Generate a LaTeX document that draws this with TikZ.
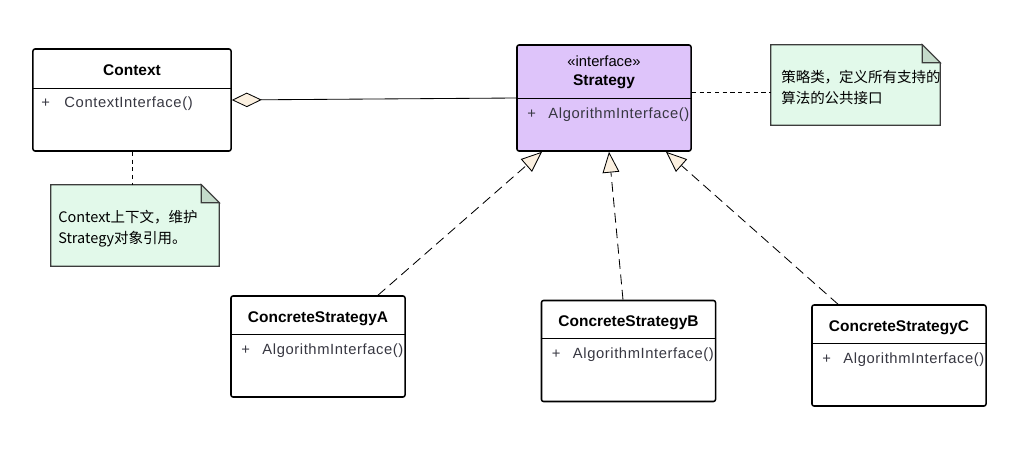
\documentclass[tikz,border=0pt]{standalone}
\usepackage{fontspec}
\setmainfont{Liberation Sans}
\newfontfamily\cjk{Noto Sans CJK SC}
\newfontfamily\methodfont[LetterSpace=4]{Liberation Sans}
\usepackage{xcolor}
\usepackage{tikz}
\usetikzlibrary{arrows.meta}
\usetikzlibrary{calc}
\definecolor{ifaceviolet}{RGB}{222,196,250}
\definecolor{notegreen}{RGB}{226,249,234}
\definecolor{foldgray}{RGB}{196,218,202}
\definecolor{notegray}{RGB}{60,60,60}
\definecolor{tipcream}{RGB}{251,240,224}
\definecolor{methodgray}{RGB}{55,55,65}

\begin{document}
\begin{tikzpicture}[x=0.025cm, y=-0.025cm,
        classbox/.style={draw, line width=1.1pt, rounded corners=1.5pt, minimum width=4.35cm, minimum height=2.525cm, inner sep=0pt},
        titletext/.style={anchor=base, inner sep=0pt, font=\fontsize{11}{13}\selectfont\bfseries},
        methodtext/.style={anchor=base west, inner sep=0pt, text=methodgray, font=\fontsize{10.5}{12}\methodfont},
        notebox/.style={draw=notegray, line width=0.8pt, fill=notegreen},
        notetext/.style={anchor=west, inner sep=0pt, align=left, font=\fontsize{10.3}{14.9}\cjk},
        realize/.style={line width=0.6pt, dash pattern=on 7pt off 4pt, -{Triangle[length=0.52cm, width=0.42cm, fill=tipcream]}},
        aggregate/.style={line width=0.6pt, -{Diamond[length=0.75cm, width=0.36cm, fill=tipcream]}},
        notelink/.style={line width=0.6pt, dash pattern=on 3pt off 2.5pt}]

        \useasboundingbox (0, 0) rectangle (1014, 459);

        % Context
        \node[classbox, minimum width=4.95cm, minimum height=2.55cm] (ctx) at (132, 100) {};
        \node[titletext] (ctx-title) at ($(ctx.north)+(0, 27)$) {Context};
        \draw[line width=0.8pt] ($(ctx.north west)+(0, 40)$) -- ($(ctx.north east)+(0, 40)$);
        \node[methodtext] at ($(ctx.north west)+(9, 59)$) {+};
        \node[methodtext] (ctx-op) at ($(ctx.north west)+(32, 59)$) {ContextInterface()};

        % Strategy interface
        \node[classbox, fill=ifaceviolet, minimum height=2.65cm] (str) at (604, 98) {};
        \node[anchor=base, inner sep=0pt, font=\fontsize{10.5}{12}\selectfont] (str-stereo) at ($(str.north)+(0, 22)$) {«interface»};
        \node[titletext] (str-title) at ($(str.north)+(0, 41)$) {Strategy};
        \draw[line width=0.8pt] ($(str.north west)+(0, 54)$) -- ($(str.north east)+(0, 54)$);
        \node[methodtext] at ($(str.north west)+(11, 74)$) {+};
        \node[methodtext] (str-op) at ($(str.north west)+(32, 74)$) {AlgorithmInterface()};

        % concrete strategies
        \foreach \n/\cx/\cy in {A/318/346.5, B/628.5/351, C/899/355.5} {
            \node[classbox] (cs\n) at (\cx, \cy) {};
            \node[titletext] (cs\n-title) at ($(cs\n.north)+(0, 27)$) {ConcreteStrategy\n};
            \draw[line width=0.8pt] ($(cs\n.north west)+(0, 39)$) -- ($(cs\n.north east)+(0, 39)$);
            \node[methodtext] at ($(cs\n.north west)+(11, 59)$) {+};
            \node[methodtext] (cs\n-op) at ($(cs\n.north west)+(32, 59)$) {AlgorithmInterface()};
        }

        % notes
        \node[minimum width=4.2cm, minimum height=2.025cm] (ctxnote) at (135, 225.5) {};
        \node[minimum width=4.225cm, minimum height=2cm] (strnote) at (855.5, 85) {};
        \foreach \nt in {ctxnote, strnote} {
            \draw[notebox] (\nt.north west) -- ($(\nt.north east)+(-18, 0)$) -- ($(\nt.north east)+(0, 18)$) -- (\nt.south east) -- (\nt.south west) -- cycle;
            \draw[notebox, fill=foldgray] ($(\nt.north east)+(-18, 0)$) -- ($(\nt.north east)+(-18, 18)$) -- ($(\nt.north east)+(0, 18)$) -- cycle;
        }
        \node[notetext] (ctxnote-txt) at (58, 229) {Context上下文，维护\\Strategy对象引用。};
        \node[notetext] (strnote-txt) at (781, 87) {策略类，定义所有支持的\\算法的公共接口};

        % connectors
        \draw[aggregate] (str.west) -- (ctx.east);
        \foreach \n/\dx/\ex in {A/60/-62, B/-5.5/5, C/-61/62} {
            \draw[realize] ($(cs\n.north)+(\dx, 0)$) -- ($(str.south)+(\ex, 0)$);
        }
        \draw[notelink] (ctx.south) -- (ctx.south |- ctxnote.north);
        \coordinate (strlink) at ($(str.east)+(0, -6)$);
        \draw[notelink] (strlink) -- (strlink -| strnote.west);

    \end{tikzpicture}
\end{document}
